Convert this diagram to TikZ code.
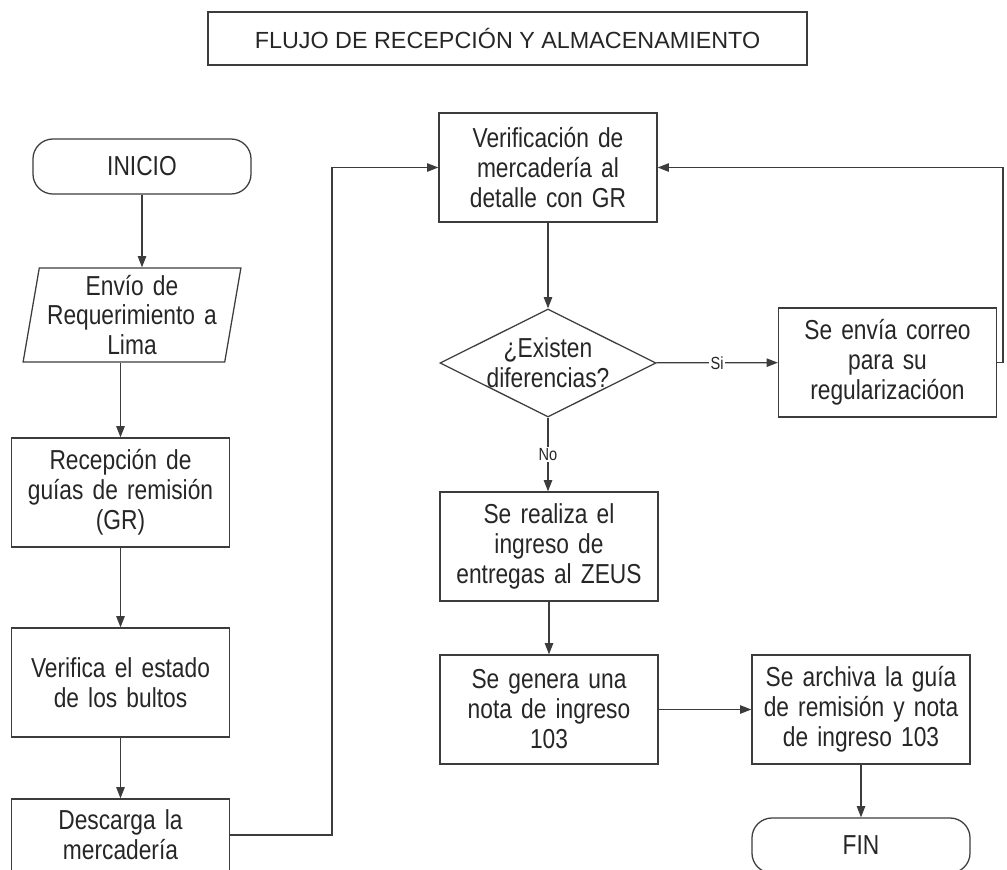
\documentclass[tikz,border=0pt]{standalone}
\usepackage{fontspec}
\setmainfont{Liberation Sans}[FakeStretch=0.83]
\newfontfamily\titlefont{Liberation Sans}
\definecolor{LineColor}{RGB}{60,60,60}
\definecolor{TextColor}{RGB}{38,38,38}
\usetikzlibrary{positioning, arrows.meta, shapes.geometric}
\newcommand{\stepfont}{\fontsize{19.5}{21.3}\selectfont}
\newcommand{\tagfont}{\fontsize{12.5}{14}\selectfont}
\tikzstyle{arrow} = [line width=0.9pt, LineColor, -{Triangle[length=8pt, width=6pt]}]
\tikzstyle{process} = [rectangle, draw=LineColor, line width=0.9pt, minimum width=5.45cm, minimum height=2.725cm, text width=5cm, text centered, font=\stepfont, text=TextColor]
\tikzstyle{terminal} = [process, rounded corners=0.5cm, minimum height=1.375cm]
\tikzstyle{io} = [process, trapezium, trapezium left angle=80, trapezium right angle=100, trapezium stretches=true, minimum height=2.35cm, text width=4.3cm]
\tikzstyle{decision} = [process, diamond, aspect=2, inner sep=-4pt, minimum width=5.4cm, minimum height=2.7cm, text width=3.1cm]
\tikzstyle{tag} = [fill=white, inner sep=1pt, font=\tagfont, text=TextColor]

\begin{document}
\begin{tikzpicture}[x=0.025cm, y=-0.025cm]
      \useasboundingbox (0,0) rectangle (1007,869);
      \clip (0,0) rectangle (1007,869);

      % Title
      \node[rectangle, draw=LineColor, line width=0.9pt, minimum width=14.975cm, minimum height=1.325cm, text=TextColor, font=\titlefont\fontsize{16.6}{20}\selectfont] (title) at (507.5,38.5) {FLUJO DE RECEPCIÓN Y ALMACENAMIENTO};

      % Left column
      \node[terminal] (inicio) at (142,166.5) {INICIO};
      \node[io] (envio) at (132,315) {Envío de \\ Requerimiento a \\ Lima};
      \node[process] (recepcion) at (120.5,492.5) {Recepción de \\ guías de remisión \\ (GR)};
      \node[process] (verifica) at (120.5,682.5) {Verifica el estado \\ de los bultos};
      \node[process, minimum height=1.8cm] (descarga) at (120.5,835) {Descarga la \\ mercadería};

      % Middle column
      \node[process] (verificacion) at (548,167.5) {Verificación de \\ mercadería al \\ detalle con GR};
      \node[decision] (existen) at (548,363) {¿Existen \\ diferencias?};
      \node[process] (ingreso) at (549,546.5) {Se realiza el \\ ingreso de \\ entregas al ZEUS};
      \node[process] (nota) at (549,709.5) {Se genera una \\ nota de ingreso \\ 103};

      % Right column
      \node[process] (correo) at (887.5,362.5) {Se envía correo \\ para su \\ regularizacióon};
      \node[process] (archiva) at (861,709.5) {Se archiva la guía \\ de remisión y nota \\ de ingreso 103};
      \node[terminal] (fin) at (861,845.5) {FIN};

      % Loop corners
      \coordinate (loopL) at (332,167.5);
      \coordinate (loopR) at (1003,167.5);

      % Connections
      \draw[arrow] (inicio) -- (inicio |- envio.north);
      \draw[arrow] (recepcion |- envio.south) -- (recepcion);
      \draw[arrow] (recepcion) -- (verifica);
      \draw[arrow] (verifica) -- (descarga);
      \draw[arrow] (descarga.east) -| (loopL) -- (verificacion.west);
      \draw[arrow] (verificacion) -- (existen);
      \draw[arrow] (existen) -- node[tag] {Si} (correo);
      \draw[arrow] (correo.east) -| (loopR) -- (verificacion.east);
      \draw[arrow] (existen) -- node[tag] {No} (existen |- ingreso.north);
      \draw[arrow] (ingreso) -- (nota);
      \draw[arrow] (nota) -- (archiva);
      \draw[arrow] (archiva) -- (fin);
    \end{tikzpicture}
\end{document}
